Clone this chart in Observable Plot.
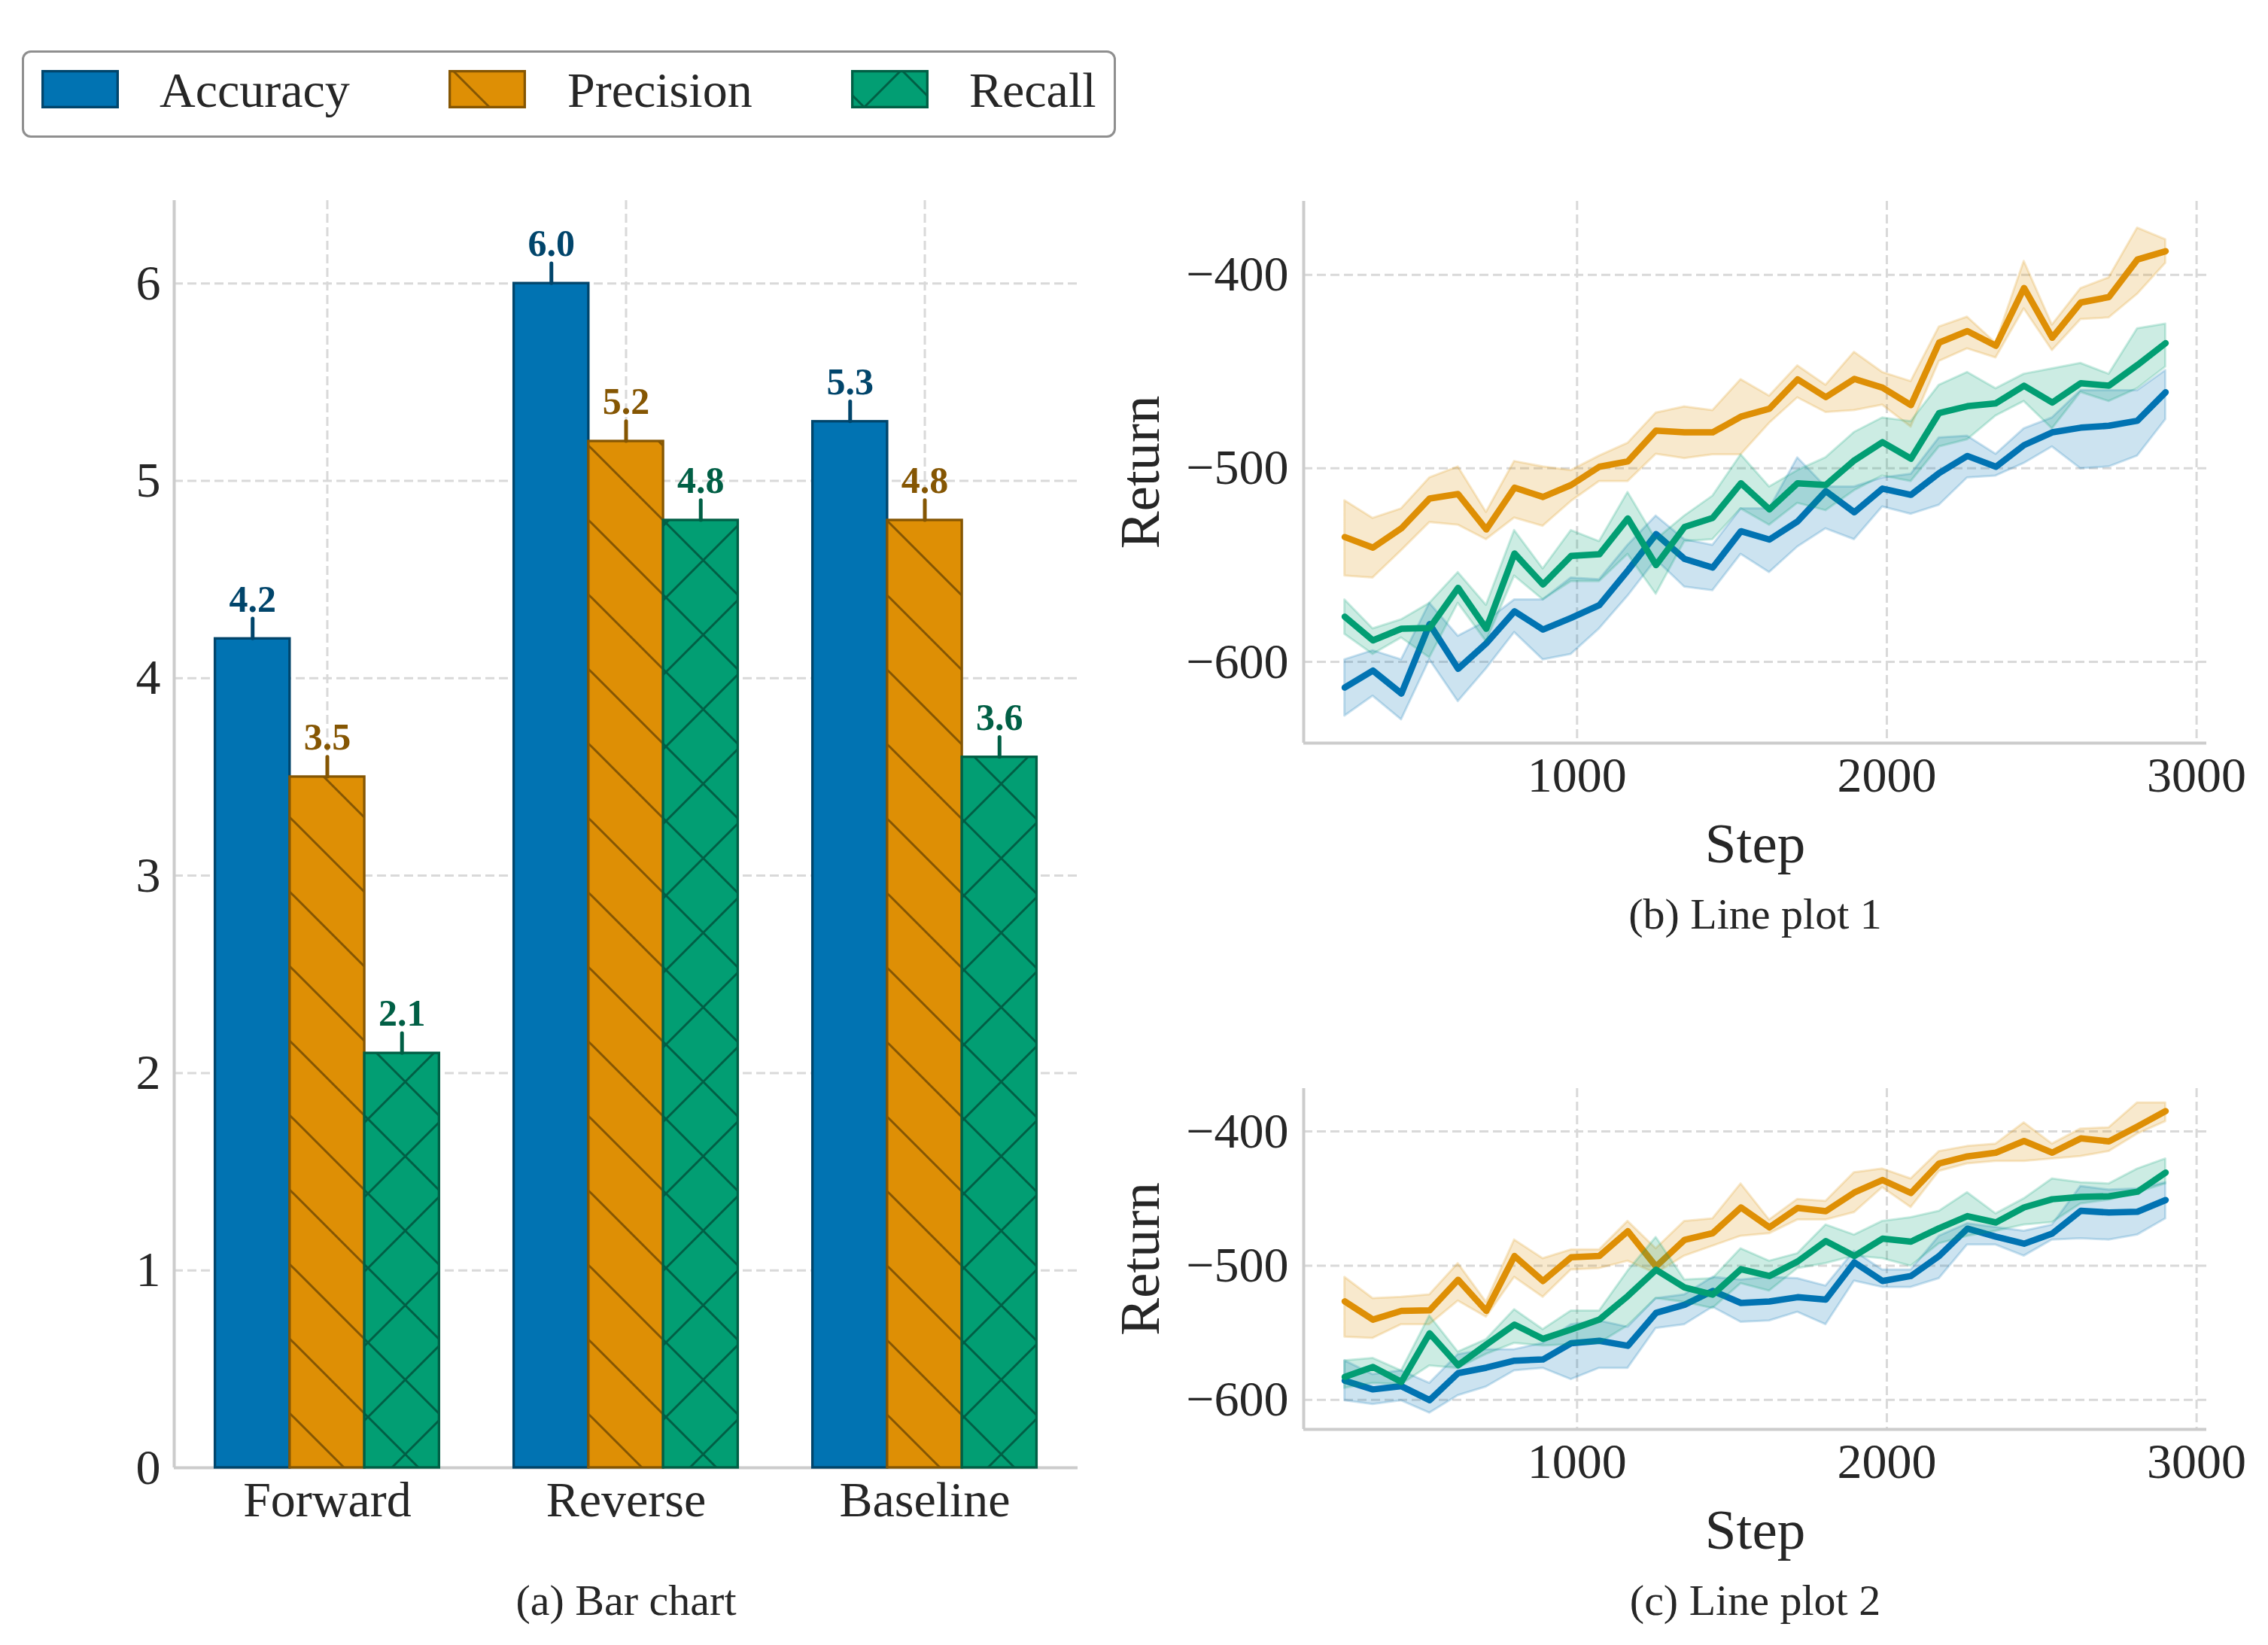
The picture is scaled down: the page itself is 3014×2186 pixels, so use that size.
<!DOCTYPE html>
<html>
<head>
<meta charset="utf-8">
<script src="https://cdn.jsdelivr.net/npm/d3@7"></script>
<script src="https://cdn.jsdelivr.net/npm/@observablehq/plot@0.6"></script>
<style>
html, body { margin: 0; padding: 0; background: #ffffff; }
#root { position: relative; width: 3014px; height: 2186px; background: #ffffff; overflow: hidden;
  font-family: "Liberation Serif", "Times New Roman", serif; color: #262626; }
.panel { position: absolute; }
#legend { position: absolute; left: 29px; top: 67px; width: 1454px; height: 116px; box-sizing: border-box;
  border: 3px solid #8f8f8f; border-radius: 12px; background: #ffffff; }
.sw { position: absolute; top: 23px; }
.lab { position: absolute; top: 17px; font-size: 66px; line-height: 66px; white-space: nowrap; color: #262626; }
</style>
</head>
<body>
<div id="root">
  <svg width="0" height="0" style="position:absolute;left:0;top:0">
    <defs>
      <pattern id="hatchBack" patternUnits="userSpaceOnUse" width="99" height="99" x="93" y="0">
        <rect width="99" height="99" fill="#DE8F05"></rect>
        <path d="M0,0L99,99M-20,79L20,119M79,-20L119,20" stroke="#855603" stroke-width="3" fill="none"></path>
      </pattern>
      <pattern id="hatchCross" patternUnits="userSpaceOnUse" width="99" height="99" x="93" y="0">
        <rect width="99" height="99" fill="#029E73"></rect>
        <path d="M0,0L99,99M-20,79L20,119M79,-20L119,20M0,99L99,0M-20,20L20,-20M79,119L119,79" stroke="#015F45" stroke-width="3" fill="none"></path>
      </pattern>
      <pattern id="legBack" patternUnits="userSpaceOnUse" width="99" height="99" x="5" y="0">
        <rect width="99" height="99" fill="#DE8F05"></rect>
        <path d="M0,0L99,99M-20,79L20,119M79,-20L119,20" stroke="#855603" stroke-width="3" fill="none"></path>
      </pattern>
      <pattern id="legCross" patternUnits="userSpaceOnUse" width="99" height="99" x="67" y="0">
        <rect width="99" height="99" fill="#029E73"></rect>
        <path d="M0,0L99,99M-20,79L20,119M79,-20L119,20M0,99L99,0M-20,20L20,-20M79,119L119,79" stroke="#015F45" stroke-width="3" fill="none"></path>
      </pattern>
    </defs>
  </svg>
  <div id="bar" class="panel" style="left:0px;top:200px"></div>
  <div id="line1" class="panel" style="left:1450px;top:180px"></div>
  <div id="line2" class="panel" style="left:1450px;top:1290px"></div>
  <div id="legend"></div>
</div>
<script>
// ---------- Bar chart data ----------
const groups = ["Forward", "Reverse", "Baseline"];
const metrics = ["Accuracy", "Precision", "Recall"];
const accuracy = [4.2, 6.0, 5.3];
const precision = [3.5, 5.2, 4.8];
const recall = [2.1, 4.8, 3.6];
const accuracyErr = [0.1, 0.1, 0.1];
const precisionErr = [0.1, 0.1, 0.1];
const recallErr = [0.1, 0.1, 0.1];
const barTicks = [0, 1, 2, 3, 4, 5, 6];

// ---------- Line plot data ----------
const steps = [250, 341, 433, 524, 616, 707, 798, 890, 981, 1072, 1164, 1255, 1347, 1438, 1529,
  1621, 1712, 1803, 1895, 1986, 2078, 2169, 2260, 2352, 2443, 2534, 2626, 2717, 2809, 2900];
const stepTicks = [1000, 2000, 3000];
const returnTicks = [-600, -500, -400];

// Line plot 1
const l1AccMean = [-613.3, -604.5, -616.4, -580.5, -603.6, -590.4, -573.9, -583.3, -577.3, -570.7,
  -552.8, -534.0, -546.8, -551.3, -532.5, -536.8, -527.4, -511.8, -522.7, -510.5,
  -513.7, -502.4, -493.6, -499.2, -488.0, -481.4, -479.0, -478.0, -475.4, -460.7];
const l1AccHigh = [-598.9, -594.2, -598.9, -569.7, -586.7, -579.1, -567.9, -567.9, -556.6, -557.5,
  -539.7, -524.6, -536.8, -539.7, -520.9, -520.9, -494.5, -509.6, -509.6, -504.9,
  -503.0, -484.2, -483.3, -492.7, -479.5, -473.9, -459.8, -459.8, -459.8, -449.4];
const l1AccLow = [-628.0, -617.7, -629.9, -598.9, -620.5, -603.6, -584.8, -598.9, -596.1, -582.9,
  -566.0, -547.2, -561.3, -563.2, -544.4, -553.8, -540.6, -531.2, -536.8, -519.9,
  -523.7, -519.0, -504.9, -503.9, -497.4, -488.9, -500.2, -499.2, -493.6, -474.8];
const l1PreMean = [-535.5, -541.0, -531.0, -515.6, -513.3, -531.6, -510.0, -514.8, -508.6, -499.2,
  -496.4, -480.5, -481.4, -481.4, -473.3, -469.2, -454.0, -463.2, -453.8, -458.3,
  -467.3, -435.0, -429.1, -436.7, -406.8, -432.5, -414.3, -411.5, -392.1, -387.8];
const l1PreHigh = [-516.7, -525.8, -520.9, -504.9, -499.2, -522.7, -496.4, -499.2, -501.1, -493.6,
  -487.0, -471.4, -468.2, -470.1, -454.1, -462.6, -447.0, -457.0, -440.0, -450.4,
  -455.1, -426.9, -421.8, -435.3, -393.0, -425.9, -407.1, -401.5, -375.8, -381.8];
const l1PreLow = [-555.6, -556.6, -542.5, -528.0, -529.3, -536.8, -525.6, -529.9, -517.1, -506.8,
  -506.8, -492.7, -494.9, -493.0, -493.0, -476.7, -463.5, -471.1, -470.1, -467.3,
  -478.6, -444.7, -438.2, -442.9, -417.5, -439.1, -423.1, -422.2, -410.0, -394.0];
const l1RecMean = [-576.7, -588.9, -582.9, -582.5, -561.8, -582.9, -544.0, -560.0, -545.3, -544.4,
  -525.9, -550.0, -530.3, -525.6, -507.7, -521.2, -507.7, -508.6, -495.9, -486.5,
  -495.0, -471.4, -467.9, -466.4, -457.3, -466.0, -456.0, -457.3, -446.6, -435.3];
const l1RecHigh = [-567.9, -582.9, -578.2, -569.7, -553.8, -570.7, -532.1, -551.9, -532.1, -537.8,
  -512.4, -536.8, -524.6, -514.3, -493.0, -509.6, -501.1, -494.5, -481.4, -473.9,
  -475.8, -457.0, -450.4, -458.8, -451.3, -448.5, -445.7, -451.3, -427.8, -425.4];
const l1RecLow = [-585.7, -596.1, -587.6, -597.9, -569.7, -589.5, -555.6, -567.9, -558.5, -558.5,
  -544.4, -565.0, -537.8, -536.8, -520.9, -529.3, -518.0, -521.8, -511.5, -503.9,
  -506.8, -488.9, -485.2, -472.9, -465.4, -479.5, -460.7, -465.4, -458.8, -447.6];

// Line plot 2
const l2AccMean = [-585.7, -592.2, -589.8, -600.2, -580.1, -576.0, -570.8, -569.9, -557.8, -556.0,
  -559.7, -535.2, -529.1, -518.8, -527.8, -526.7, -523.5, -525.3, -497.5, -511.4,
  -507.7, -492.8, -472.4, -478.4, -483.6, -476.1, -459.1, -460.4, -459.8, -451.1];
const l2AccHigh = [-570.8, -581.1, -578.3, -587.6, -566.2, -562.5, -562.5, -557.8, -543.9, -541.1,
  -545.8, -524.4, -521.6, -508.6, -510.5, -508.6, -509.6, -515.1, -489.1, -503.1,
  -503.1, -478.0, -468.7, -471.5, -474.3, -469.6, -440.9, -443.6, -442.7, -438.1];
const l2AccLow = [-600.6, -603.3, -600.6, -609.8, -596.8, -590.3, -578.3, -576.4, -584.8, -576.4,
  -576.4, -546.7, -543.9, -530.9, -542.1, -541.1, -534.6, -543.9, -511.4, -516.1,
  -516.1, -509.6, -484.5, -484.5, -492.8, -480.8, -479.9, -480.8, -477.1, -465.0];
const l2PreMean = [-526.6, -540.2, -533.7, -533.3, -510.5, -533.7, -492.8, -511.4, -493.8, -492.8,
  -474.3, -500.6, -480.8, -475.8, -456.6, -471.5, -457.0, -459.4, -445.5, -436.2,
  -445.9, -423.8, -418.6, -415.8, -407.1, -415.8, -405.2, -407.4, -396.3, -384.8];
const l2PreHigh = [-508.6, -524.4, -523.5, -521.6, -498.4, -527.2, -480.8, -494.7, -488.2, -488.2,
  -466.9, -487.3, -466.9, -465.0, -439.0, -465.9, -450.5, -452.0, -430.6, -427.9,
  -435.3, -414.9, -411.1, -409.3, -393.5, -409.3, -398.1, -397.2, -378.6, -378.6];
const l2PreLow = [-553.2, -554.1, -543.9, -543.9, -526.3, -538.3, -508.6, -523.5, -503.1, -502.1,
  -496.6, -505.8, -492.8, -485.4, -478.0, -476.1, -465.9, -465.9, -460.4, -441.8,
  -456.6, -429.7, -424.1, -422.3, -422.3, -420.4, -418.6, -414.9, -401.9, -392.6];
const l2RecMean = [-582.9, -575.5, -586.6, -550.4, -574.2, -558.8, -543.9, -554.5, -547.6, -540.2,
  -522.6, -503.1, -516.2, -521.6, -502.6, -507.7, -496.9, -481.7, -492.8, -479.9,
  -482.1, -472.1, -463.1, -467.8, -456.6, -450.5, -448.7, -448.3, -444.9, -430.6];
const l2RecHigh = [-570.8, -569.0, -578.3, -537.4, -564.3, -555.0, -532.7, -547.6, -533.7, -533.7,
  -504.0, -478.9, -510.5, -509.6, -487.3, -496.6, -491.0, -469.6, -477.1, -466.9,
  -464.1, -459.4, -445.5, -461.3, -450.1, -435.3, -438.1, -439.0, -427.9, -420.4];
const l2RecLow = [-591.3, -587.6, -588.5, -574.6, -576.4, -566.0, -557.8, -559.7, -558.8, -557.8,
  -544.8, -524.4, -527.2, -531.8, -513.3, -518.8, -502.1, -498.4, -492.8, -494.7,
  -500.3, -483.6, -478.0, -474.3, -469.6, -467.8, -453.9, -451.1, -445.5, -439.0];

// ---------- Styles ----------
const fillColors = ["#0173B2", "#DE8F05", "#029E73"];
const edgeColors = ["#01456B", "#855603", "#015F45"];
const barFills = ["#0173B2", "url(#hatchBack)", "url(#hatchCross)"];
const legendFills = ["#0173B2", "url(#legBack)", "url(#legCross)"];
const FONT = "Liberation Serif, Times New Roman, serif";
const baseStyle = {fontFamily: FONT, fontSize: "66px", color: "#262626", background: "transparent", overflow: "visible"};
const gridStyle = {stroke: "#d9d9d9", strokeOpacity: 1, strokeWidth: 3, strokeDasharray: "12,6"};
const spineStyle = {stroke: "#cccccc", strokeWidth: 4};

// ---------- Bar chart ----------
const barValues = [accuracy, precision, recall];
const barErrors = [accuracyErr, precisionErr, recallErr];
const barRows = [];
groups.forEach((g, gi) => metrics.forEach((m, mi) => {
  barRows.push({group: g, gi, metric: m, mi, value: barValues[mi][gi], err: barErrors[mi][gi]});
}));
const barWidth = 0.25;
const center = d => d.gi + (d.mi - 1) * barWidth;
const barX = [-0.5125, 2.5125];
const barY = [0, 6.42];

const barMarks = [
  Plot.gridY(barTicks.filter(t => t > 0), gridStyle),
  Plot.gridX([0, 1, 2], gridStyle),
  Plot.ruleX([barX[0]], spineStyle),
  Plot.ruleY([barY[0]], spineStyle)
];
metrics.forEach((m, mi) => {
  const rows = barRows.filter(d => d.mi === mi);
  barMarks.push(Plot.rect(rows, {
    x1: d => center(d) - barWidth / 2, x2: d => center(d) + barWidth / 2,
    y1: 0, y2: "value", fill: barFills[mi], stroke: edgeColors[mi], strokeWidth: 3.3
  }));
});
metrics.forEach((m, mi) => {
  const rows = barRows.filter(d => d.mi === mi);
  barMarks.push(Plot.ruleX(rows, {
    x: center, y1: "value", y2: d => d.value + d.err, stroke: edgeColors[mi], strokeWidth: 5, strokeLinecap: "round"
  }));
  barMarks.push(Plot.text(rows, {
    x: center, y: d => d.value + d.err, text: d => d.value.toFixed(1), dy: -10, lineAnchor: "bottom",
    fill: edgeColors[mi], fontWeight: "bold", fontSize: 50
  }));
});
barMarks.push(
  Plot.axisX([0, 1, 2], {tickSize: 0, tickPadding: 18, tickFormat: i => groups[i], fontSize: 66}),
  Plot.axisY(barTicks, {tickSize: 0, tickPadding: 18, tickFormat: d => String(d), fontSize: 66}),
  Plot.text(["(a) Bar chart"], {frameAnchor: "bottom", textAnchor: "middle", dy: 195, lineAnchor: "bottom", fontSize: 58})
);

const barPlot = Plot.plot({
  width: 1500, height: 1986,
  marginLeft: 231, marginRight: 68, marginTop: 66, marginBottom: 236,
  x: {type: "linear", domain: barX, label: null},
  y: {domain: barY, label: null},
  style: baseStyle,
  marks: barMarks
});
document.getElementById("bar").appendChild(barPlot);

// ---------- Line plots ----------
const stepDomain = [117.5, 3032.5];
function linePlot(spec) {
  const marks = [
    Plot.gridX(stepTicks, gridStyle),
    Plot.gridY(returnTicks, gridStyle),
    Plot.ruleX([stepDomain[0]], spineStyle),
    Plot.ruleY([spec.yDomain[0]], spineStyle)
  ];
  spec.series.forEach((s, si) => {
    const rows = steps.map((st, i) => ({step: st, mean: s.mean[i], lo: s.low[i], hi: s.high[i]}));
    marks.push(Plot.areaY(rows, {x: "step", y1: "lo", y2: "hi", fill: fillColors[si], fillOpacity: 0.2,
      stroke: fillColors[si], strokeOpacity: 0.2, strokeWidth: 3}));
    marks.push(Plot.line(rows, {x: "step", y: "mean", stroke: fillColors[si], strokeWidth: 8.5,
      strokeLinejoin: "round", strokeLinecap: "round"}));
  });
  marks.push(
    Plot.axisX(stepTicks, {tickSize: 0, tickPadding: 18, tickFormat: d => String(d), fontSize: 66}),
    Plot.axisY(returnTicks, {tickSize: 0, tickPadding: 20, tickFormat: d => (d < 0 ? "\u2212" : "") + Math.abs(d), fontSize: 66}),
    Plot.text(["Step"], {frameAnchor: "bottom", textAnchor: "middle", dy: 158, lineAnchor: "bottom", fontSize: 75}),
    Plot.text(["Return"], {frameAnchor: "left", textAnchor: "middle", rotate: -90, dx: -193, lineAnchor: "bottom", fontSize: 75}),
    Plot.text([spec.caption], {frameAnchor: "bottom", textAnchor: "middle", dy: 246, lineAnchor: "bottom", fontSize: 58})
  );
  return Plot.plot({
    width: 1564, height: spec.height,
    marginLeft: 282, marginRight: 82, marginTop: spec.marginTop, marginBottom: spec.marginBottom,
    x: {domain: stepDomain, label: null},
    y: {domain: spec.yDomain, label: null},
    style: baseStyle,
    marks
  });
}

document.getElementById("line1").appendChild(linePlot({
  height: 1100, marginTop: 87, marginBottom: 293, yDomain: [-642, -362], caption: "(b) Line plot 1",
  series: [
    {mean: l1AccMean, low: l1AccLow, high: l1AccHigh},
    {mean: l1PreMean, low: l1PreLow, high: l1PreHigh},
    {mean: l1RecMean, low: l1RecLow, high: l1RecHigh}
  ]
}));
document.getElementById("line2").appendChild(linePlot({
  height: 896, marginTop: 156, marginBottom: 287, yDomain: [-622, -368], caption: "(c) Line plot 2",
  series: [
    {mean: l2AccMean, low: l2AccLow, high: l2AccHigh},
    {mean: l2PreMean, low: l2PreLow, high: l2PreHigh},
    {mean: l2RecMean, low: l2RecLow, high: l2RecHigh}
  ]
}));

// ---------- Legend ----------
const legend = document.getElementById("legend");
const swatchLeft = [23, 564, 1099];
const labelLeft = [180, 722, 1256];
metrics.forEach((m, mi) => {
  const ns = "http://www.w3.org/2000/svg";
  const svg = document.createElementNS(ns, "svg");
  svg.setAttribute("width", 103); svg.setAttribute("height", 51);
  svg.setAttribute("class", "sw");
  svg.style.left = swatchLeft[mi] + "px";
  const r = document.createElementNS(ns, "rect");
  r.setAttribute("x", 1.65); r.setAttribute("y", 1.65);
  r.setAttribute("width", 99.7); r.setAttribute("height", 47.7);
  r.setAttribute("fill", legendFills[mi]); r.setAttribute("stroke", edgeColors[mi]); r.setAttribute("stroke-width", 3.3);
  svg.appendChild(r);
  legend.appendChild(svg);
  const t = document.createElement("div");
  t.className = "lab"; t.textContent = m; t.style.left = labelLeft[mi] + "px";
  legend.appendChild(t);
});
</script>
</body>
</html>
